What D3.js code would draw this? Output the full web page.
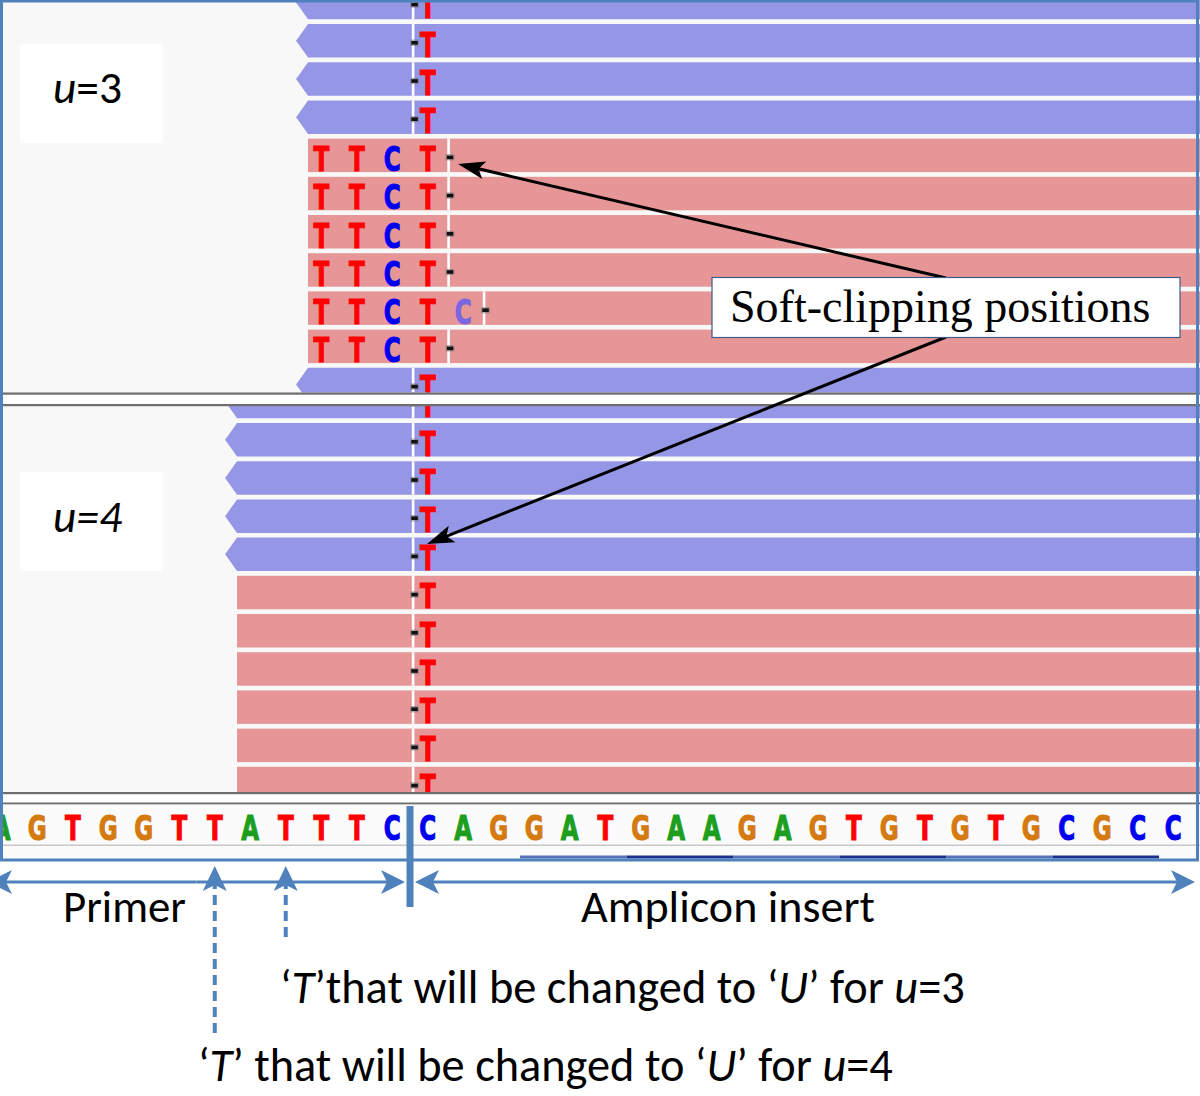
<!DOCTYPE html>
<html><head><meta charset="utf-8">
<script src="https://cdn.jsdelivr.net/npm/d3@7"></script>
<style>body{margin:0;background:#fff}svg{display:block}</style>
</head><body>
<svg id="c" width="1200" height="1096"></svg>
<script>
// ---------------- data ----------------
const refStartPos = -12;
const refBases = ["A","G","T","G","G","T","T","A","T","T","T","C",
                  "C","A","G","G","A","T","G","A","A","G","A","G","T","G","T","G","T","G","C","G","C","C"];
const panelLabels = ["3", "4"];
// top panel (u=3)
const topStrand    = ["-","-","-","-","+","+","+","+","+","+","-"];
const topReadStart = [-3,-3,-3,-3,-3,-3,-3,-3,-3,-3,-3];
const topClipPos   = [0,0,0,0,1,1,1,1,2,1,0];
const topBases     = ["T","T","T","T","TTCT","TTCT","TTCT","TTCT","TTCTC","TTCT","T"];
const topBaseStart = [0,0,0,0,-3,-3,-3,-3,-3,-3,0];
const topLowQual   = [[8,4]];           // [row, base index] shown faded
// bottom panel (u=4)
const botStrand    = ["-","-","-","-","-","+","+","+","+","+","+"];
const botReadStart = [-5,-5,-5,-5,-5,-5,-5,-5,-5,-5,-5];
const botClipPos   = [0,0,0,0,0,0,0,0,0,0,0];
const botBases     = ["T","T","T","T","T","T","T","T","T","T","T"];
const botBaseStart = [0,0,0,0,0,0,0,0,0,0,0];
const botLowQual   = [];
// feature track codon segments [start, end, dark]
const featSegments = [[3.1,6.1,0],[6.1,9.1,1],[9.1,12.1,0],[12.1,15.1,1],[15.1,18.1,0],[18.1,21.1,1]];
// annotation
const regionLabels = ["Primer", "Amplicon insert"];
const uTargets = [{u:"3", pos:-4}, {u:"4", pos:-6}];
const calloutText = "Soft-clipping positions";

// ---------------- scales ----------------
const x = d3.scaleLinear().domain([0,1]).range([410, 445.5]);
const yTop = d3.scaleLinear().domain([0,1]).range([-14.2, 24]);
const yBot = d3.scaleLinear().domain([0,1]).range([384.8, 423]);
const ROWH = 33.5;
const baseColor = {A:"#1e9e1e", C:"#0000f0", G:"#d47a10", T:"#ff0000"};
const lowQualColor = {C:"#7a66e0", T:"#ff7070", A:"#60c060", G:"#e0a060"};
const BLUE = "#4f81bd";
const RED_READ = "#e69696", BLUE_READ = "#9696e6";

const svg = d3.select("#c");
const defs = svg.append("defs");
defs.append("clipPath").attr("id","clipTop").append("rect").attr("x",0).attr("y",0).attr("width",1200).attr("height",392.5);
defs.append("clipPath").attr("id","clipBot").append("rect").attr("x",0).attr("y",405.5).attr("width",1200).attr("height",386.5);

// background of browser area
svg.append("rect").attr("x",0).attr("y",0).attr("width",1200).attr("height",860).attr("fill","#f8f8f8");

function drawBase(g, b, cx, baseline, color){
  g.append("text").text(b)
    .attr("transform",`translate(${cx},${baseline}) scale(0.7,1)`)
    .attr("text-anchor","middle")
    .attr("font-family","'DejaVu Sans', sans-serif")
    .attr("font-weight","bold").attr("font-size",33)
    .attr("fill",color).attr("stroke",color).attr("stroke-width",1.1);
}

function drawPanel(clipId, yS, strand, start, clip, bases, bStart, lowQ){
  const g = svg.append("g").attr("clip-path",`url(#${clipId})`);
  strand.forEach((s,i)=>{
    const t = yS(i), h = ROWH;
    const x0 = x(start[i]) + 4.5, right = 1200;
    if (s === "-") {
      const tip = x0 - 12;
      g.append("polygon")
        .attr("points",[[x0,t],[tip+3,t+h/2-4],[tip,t+h/2],[tip+3,t+h/2+4],[x0,t+h],[right,t+h],[right,t]].map(p=>p.join(",")).join(" "))
        .attr("fill",BLUE_READ);
    } else {
      g.append("rect").attr("x",x0).attr("y",t).attr("width",right-x0).attr("height",h).attr("fill",RED_READ);
    }
    // bases
    bases[i].split("").forEach((b,k)=>{
      const p = bStart[i] + k;
      const low = lowQ.some(q=>q[0]===i && q[1]===k);
      drawBase(g, b, (x(p)+x(p+1))/2, t+32.5, low ? lowQualColor[b] : baseColor[b]);
    });
    // soft clip boundary
    const cx = x(clip[i]);
    g.append("rect").attr("x",cx+1.8).attr("y",t).attr("width",2.6).attr("height",h).attr("fill","#ffffff");
    g.append("rect").attr("x",cx).attr("y",t+15.5).attr("width",9).attr("height",6.5).attr("rx",1.5).attr("fill","#777").attr("opacity",0.55);
    g.append("rect").attr("x",cx+1.3).attr("y",t+17).attr("width",6.5).attr("height",3.6).attr("fill","#111");
  });
}
drawPanel("clipTop", yTop, topStrand, topReadStart, topClipPos, topBases, topBaseStart, topLowQual);
drawPanel("clipBot", yBot, botStrand, botReadStart, botClipPos, botBases, botBaseStart, botLowQual);

// separators
function sep(y1, y2){
  svg.append("rect").attr("x",0).attr("y",y1).attr("width",1200).attr("height",y2-y1).attr("fill","#ffffff");
  svg.append("rect").attr("x",0).attr("y",y1-1).attr("width",1200).attr("height",2.2).attr("fill","#6e6e6e");
  svg.append("rect").attr("x",0).attr("y",y2-1).attr("width",1200).attr("height",2.2).attr("fill","#6e6e6e");
}
sep(393.5, 405);
sep(793, 803.5);

// sequence track
svg.append("rect").attr("x",0).attr("y",804.5).attr("width",1200).attr("height",55).attr("fill","#fbfbfb");
svg.append("rect").attr("x",0).attr("y",844.5).attr("width",1200).attr("height",1.5).attr("fill","#c8c8c8");
const seqG = svg.append("g");
refBases.forEach((b,k)=>{
  const p = refStartPos + k;
  drawBase(seqG, b, (x(p)+x(p+1))/2, 840, baseColor[b]);
});
// feature track
featSegments.forEach(s=>{
  svg.append("rect").attr("x",x(s[0])).attr("y",855.5).attr("width",x(s[1])-x(s[0])).attr("height",3)
    .attr("fill", s[2] ? "#1c2f8f" : "#5573b5");
});

const FONT = "Carlito, Calibri, Lato, sans-serif";
function fit(t, w){
  const cur = t.node().getComputedTextLength();
  const fs = +t.attr("font-size");
  t.attr("font-size", fs*w/cur);
}

// panel labels
[[44,103],[472,532]].forEach((d,i)=>{
  svg.append("rect").attr("x",20).attr("y",d[0]).attr("width",143).attr("height",99).attr("fill","#ffffff");
  const t = svg.append("text").attr("x",53).attr("y",d[1])
    .attr("font-family",FONT).attr("font-size",44).attr("fill","#000");
  t.append("tspan").attr("font-style","italic").text("u");
  t.append("tspan").attr("font-style", i===1 ? "italic" : "normal").text("=" + panelLabels[i]);
  fit(t, 69);
});

// outer frame
svg.append("rect").attr("x",1.5).attr("y",1).attr("width",1196).attr("height",859)
  .attr("fill","none").attr("stroke",BLUE).attr("stroke-width",3);

// callout box + arrows
function headPts(tip, from, len, hw, notch){
  const dx = from[0]-tip[0], dy = from[1]-tip[1], L = Math.hypot(dx,dy);
  const ux = dx/L, uy = dy/L, px = -uy, py = ux;
  const bx = tip[0]+ux*len, by = tip[1]+uy*len;
  const nx = tip[0]+ux*(len-notch), ny = tip[1]+uy*(len-notch);
  return [[tip[0],tip[1]],[bx+px*hw,by+py*hw],[nx,ny],[bx-px*hw,by-py*hw]].map(p=>p.join(",")).join(" ");
}
function arrow(from, tip, color, w, len, hw, notch, dash){
  const dx = from[0]-tip[0], dy = from[1]-tip[1], L = Math.hypot(dx,dy);
  const end = [tip[0]+dx/L*(len-notch-1), tip[1]+dy/L*(len-notch-1)];
  const l = svg.append("line").attr("x1",from[0]).attr("y1",from[1]).attr("x2",end[0]).attr("y2",end[1])
    .attr("stroke",color).attr("stroke-width",w);
  if (dash) l.attr("stroke-dasharray",dash);
  svg.append("polygon").attr("points",headPts(tip,from,len,hw,notch)).attr("fill",color);
}
arrow([946,278],[458,164],"#000",3,27,9,6);
arrow([946,337],[427,544],"#000",3,27,9,6);
svg.append("rect").attr("x",712).attr("y",277.5).attr("width",468).attr("height",60)
  .attr("fill","#ffffff").attr("stroke","#3e5a86").attr("stroke-width",1.2);
svg.append("text").attr("x",730).attr("y",322).text(calloutText)
  .attr("font-family","'Liberation Serif', 'Times New Roman', serif").attr("font-size",46).attr("fill","#000");

// region arrows
const yA = 882;
function dbl(xa, xb){
  const m = (xa+xb)/2;
  arrow([m,yA],[xa,yA],BLUE,3,24,12,6);
  arrow([m,yA],[xb,yA],BLUE,3,24,12,6);
}
dbl(x(refStartPos)+4, x(0)-5);
dbl(x(0)+5, 1195);
svg.append("rect").attr("x",x(0)-3.5).attr("y",806).attr("width",7).attr("height",101).attr("fill",BLUE);

// dashed T arrows
const tipY = 866;
uTargets.forEach((d,i)=>{
  const cx = (x(d.pos)+x(d.pos+1))/2;
  const bottom = i===0 ? 937 : 1033;
  arrow([cx,bottom],[cx,tipY],BLUE,4,25,12,6,"10,6");
});

// texts
const tP = svg.append("text").attr("x",63).attr("y",922).attr("font-family",FONT).attr("font-size",44).text(regionLabels[0]);
fit(tP,123);
const tA = svg.append("text").attr("x",581).attr("y",922).attr("font-family",FONT).attr("font-size",44).text(regionLabels[1]);
fit(tA,294);

function uLine(xs, ys, w, gapAfterT, u){
  const t = svg.append("text").attr("x",xs).attr("y",ys).attr("font-family",FONT).attr("font-size",44).attr("fill","#000");
  t.append("tspan").text("\u2018");
  t.append("tspan").attr("font-style","italic").text("T");
  t.append("tspan").text("\u2019" + (gapAfterT ? " " : "") + "that will be changed to \u2018");
  t.append("tspan").attr("font-style","italic").text("U");
  t.append("tspan").text("\u2019 for ");
  t.append("tspan").attr("font-style","italic").text("u");
  t.append("tspan").text("=" + u);
  fit(t, w);
}
uLine(280, 1003, 685, false, uTargets[0].u);
uLine(198, 1081, 695, true, uTargets[1].u);
</script>
</body></html>
